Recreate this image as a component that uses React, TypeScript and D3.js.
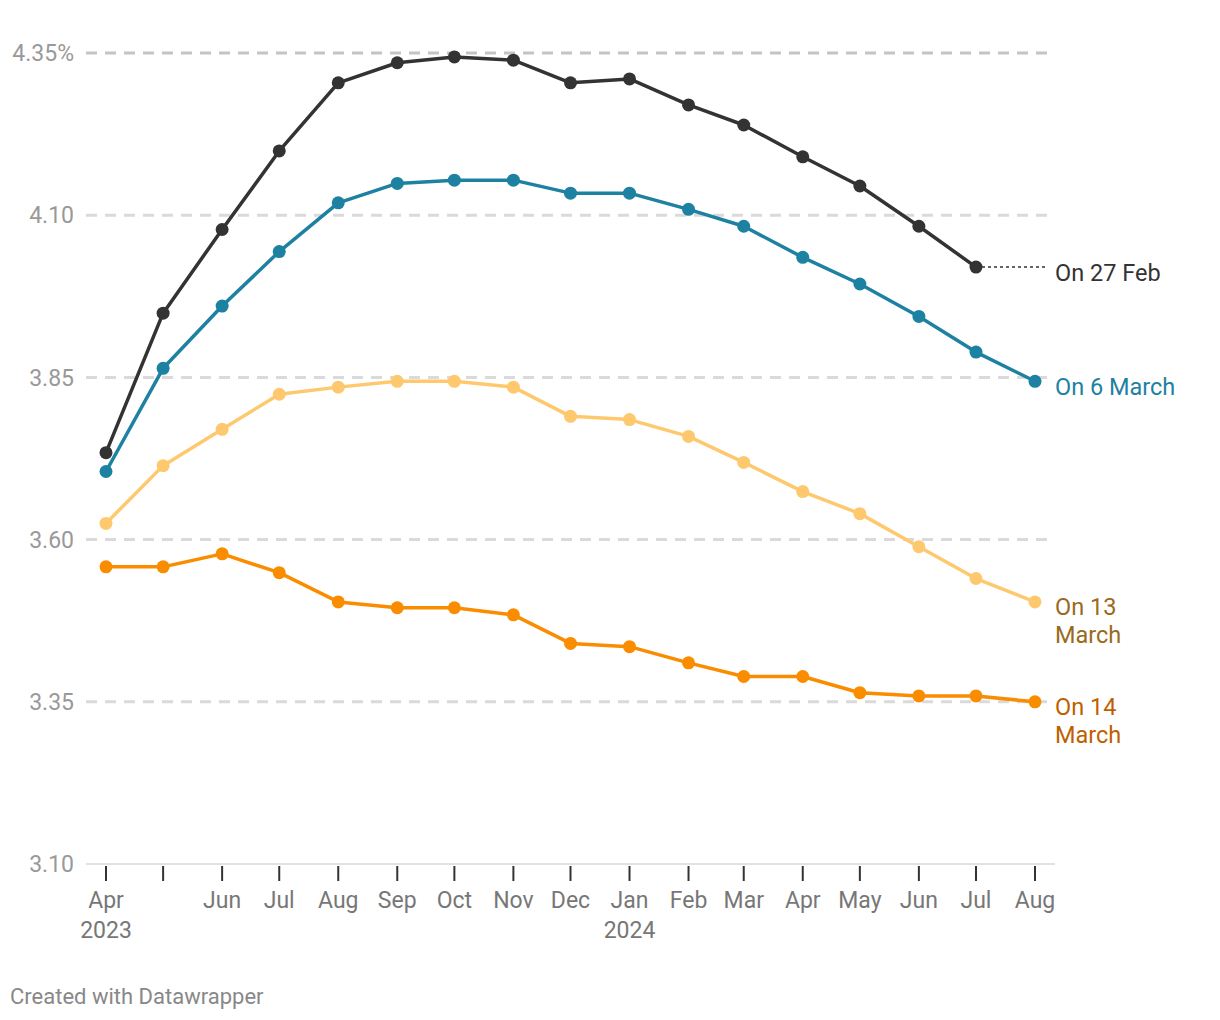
import React from "react";
import * as d3 from "d3";

// months of the forward curve (first of month)
const months = [
  "2023-04", "2023-05", "2023-06", "2023-07", "2023-08", "2023-09", "2023-10",
  "2023-11", "2023-12", "2024-01", "2024-02", "2024-03", "2024-04", "2024-05",
  "2024-06", "2024-07", "2024-08",
];

const tickLabels = [
  "Apr|2023", "", "Jun", "Jul", "Aug", "Sep", "Oct", "Nov", "Dec", "Jan|2024",
  "Feb", "Mar", "Apr", "May", "Jun", "Jul", "Aug",
];

const yTicks = [3.1, 3.35, 3.6, 3.85, 4.1, 4.35];

const feb27 = [3.734, 3.949, 4.078, 4.199, 4.304, 4.335, 4.344, 4.339, 4.304, 4.31, 4.27, 4.239, 4.19, 4.145, 4.083, 4.02];
const mar6 = [3.705, 3.864, 3.96, 4.044, 4.119, 4.149, 4.154, 4.154, 4.134, 4.134, 4.109, 4.083, 4.035, 3.994, 3.944, 3.889, 3.844];
const mar13 = [3.625, 3.714, 3.77, 3.824, 3.835, 3.844, 3.844, 3.835, 3.79, 3.785, 3.759, 3.719, 3.674, 3.64, 3.589, 3.54, 3.504];
const mar14 = [3.558, 3.558, 3.578, 3.549, 3.504, 3.495, 3.495, 3.484, 3.44, 3.435, 3.41, 3.389, 3.389, 3.364, 3.359, 3.359, 3.35];

const series = [
  { key: "feb27", values: feb27, color: "#333333", label: ["On 27 Feb"], labelColor: "#333333", dy: 5 },
  { key: "mar6", values: mar6, color: "#1d81a2", label: ["On 6 March"], labelColor: "#1d81a2", dy: 5 },
  { key: "mar13", values: mar13, color: "#fec96e", label: ["On 13", "March"], labelColor: "#9a6a1c", dy: 5 },
  { key: "mar14", values: mar14, color: "#fa8c00", label: ["On 14", "March"], labelColor: "#c05f00", dy: 5 },
];

const parse = d3.timeParse("%Y-%m");
const dates = months.map((m) => parse(m) as Date);

const font = "Roboto, 'Noto Sans', sans-serif";

export default function App() {
  const width = 1220;
  const height = 1020;
  const gridLeft = 86;
  const gridRight = 1055;

  const x = d3.scaleTime().domain([dates[0], dates[dates.length - 1]]).range([106, 1035]);
  const y = d3.scaleLinear().domain([3.1, 4.35]).range([864, 53]);

  const line = d3
    .line<number>()
    .x((_, i) => x(dates[i]))
    .y((d) => y(d));

  return (
    <div style={{ position: "absolute", left: 0, top: 0 }}>
      <svg width={width} height={height} style={{ display: "block", background: "#fff" }} fontFamily={font}>
        {/* grid */}
        {yTicks.map((t, i) => (
          <g key={t}>
            {i === 0 ? (
              <line x1={gridLeft} x2={gridRight} y1={y(t)} y2={y(t)} stroke="#e2e2e2" strokeWidth={2} />
            ) : (
              <line
                x1={gridLeft}
                x2={gridRight}
                y1={y(t)}
                y2={y(t)}
                stroke={i === yTicks.length - 1 ? "#c4c4c4" : "#dadada"}
                strokeWidth={3}
                strokeDasharray="11,8"
              />
            )}
            <text
              x={74}
              y={y(t)}
              dy="0.36em"
              textAnchor="end"
              fontSize={23}
              fill="#999"
            >
              {i === yTicks.length - 1 ? d3.format(".2f")(t) + "%" : d3.format(".2f")(t)}
            </text>
          </g>
        ))}

        {/* x ticks */}
        {dates.map((d, i) => (
          <g key={i} transform={`translate(${x(d)},0)`}>
            <line y1={866} y2={881} stroke="#333" strokeWidth={2} />
            {tickLabels[i].split("|").map((s, j) =>
              s ? (
                <text key={j} y={908 + j * 30} textAnchor="middle" fontSize={23} fill="#777">
                  {s}
                </text>
              ) : null
            )}
          </g>
        ))}

        {/* lines */}
        {series.map((s) => (
          <path key={s.key} d={line(s.values) || ""} fill="none" stroke={s.color} strokeWidth={3.5} strokeLinejoin="round" />
        ))}
        {series.map((s) => (
          <g key={s.key + "-dots"}>
            {s.values.map((v, i) => (
              <circle key={i} cx={x(dates[i])} cy={y(v)} r={6.5} fill={s.color} />
            ))}
          </g>
        ))}

        {/* connector for the shorter series */}
        <line
          x1={x(dates[feb27.length - 1]) + 6}
          x2={1046}
          y1={y(feb27[feb27.length - 1])}
          y2={y(feb27[feb27.length - 1])}
          stroke="#333"
          strokeWidth={1.5}
          strokeDasharray="3,3"
        />

        {/* labels */}
        {series.map((s) => {
          const last = s.values[s.values.length - 1];
          return (
            <text key={s.key + "-lab"} x={1055} y={y(last) + s.dy} fontSize={23.5} fill={s.labelColor}>
              {s.label.map((l, j) => (
                <tspan key={j} x={1055} dy={j === 0 ? "0.36em" : 28}>
                  {l}
                </tspan>
              ))}
            </text>
          );
        })}

        <text x={10} y={1004} fontSize={22} fill="#888">
          Created with Datawrapper
        </text>
      </svg>
    </div>
  );
}
